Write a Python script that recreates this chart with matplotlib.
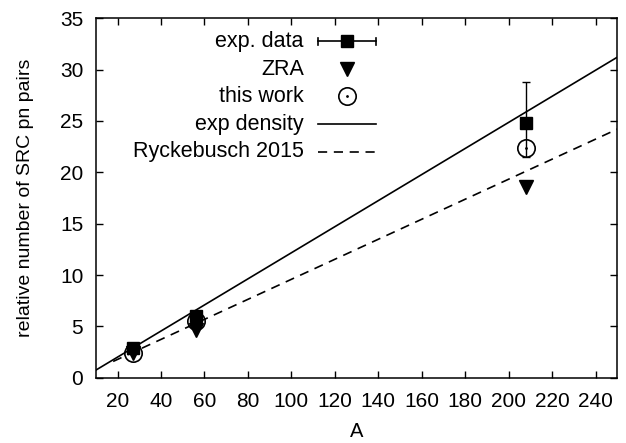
import matplotlib
matplotlib.use('Agg')
import matplotlib.pyplot as plt
from matplotlib.lines import Line2D

plt.rcParams['font.family'] = ['Liberation Sans', 'DejaVu Sans']

# measured points (A = 27, 56, 208)
A_pts = [27, 56, 208]
exp_data = [2.9, 6.0, 24.8]
exp_err_lo = [0.0, 0.0, 3.3]
exp_err_hi = [0.0, 0.0, 4.0]
zra = [2.4, 4.7, 18.6]
this_work = [2.4, 5.5, 22.4]

# curves
A_exp_density = [10, 250]
exp_density = [0.75, 31.2]
A_ryck = [18, 250]
ryckebusch = [1.6, 24.2]

legend_labels = ['exp. data', 'ZRA', 'this work', 'exp density', 'Ryckebusch 2015']

fig = plt.figure(figsize=(6.26, 4.43), dpi=100)
ax = fig.add_axes([0.153, 0.147, 0.833, 0.812])

ax.plot(A_exp_density, exp_density, color='black', lw=1.2)
ax.plot(A_ryck, ryckebusch, color='black', lw=1.2, dashes=(5.5, 4))

ax.errorbar(A_pts, exp_data, yerr=[exp_err_lo, exp_err_hi], fmt='s', color='black',
            ms=8.5, capsize=3, elinewidth=1, capthick=1)
ax.plot(A_pts, zra, 'v', color='black', ms=10.5)
ax.plot(A_pts, this_work, 'o', mfc='none', mec='black', mew=1.2, ms=12.5)
ax.plot(A_pts, this_work, '.', color='black', ms=2)

# legend drawn gnuplot style: text right aligned, sample on the right
tx, x0, x1, xm = 0.399, 0.426, 0.537, 0.482
ys = [0.936, 0.858, 0.783, 0.705, 0.628]
for lab, y in zip(legend_labels, ys):
    ax.text(tx, y, lab, transform=ax.transAxes, ha='right', va='center', fontsize=15.5)
tr = ax.transAxes
ax.add_line(Line2D([x0, x1], [ys[0]] * 2, color='black', lw=1.2, transform=tr))
for xc in (x0, x1):
    ax.add_line(Line2D([xc, xc], [ys[0] - 0.01, ys[0] + 0.01], color='black', lw=1.2, transform=tr))
ax.plot([xm], [ys[0]], 's', color='black', ms=8.5, transform=tr)
ax.plot([xm], [ys[1]], 'v', color='black', ms=10.5, transform=tr)
ax.plot([xm], [ys[2]], 'o', mfc='none', mec='black', mew=1.2, ms=12.5, transform=tr)
ax.plot([xm], [ys[2]], '.', color='black', ms=2, transform=tr)
ax.add_line(Line2D([x0, x1], [ys[3]] * 2, color='black', lw=1.2, transform=tr))
ax.add_line(Line2D([x0, x1], [ys[4]] * 2, color='black', lw=1.2, dashes=(5.5, 4), transform=tr))

ax.set_xlim(10, 250)
ax.set_ylim(0, 35)
ax.set_xticks(range(20, 241, 20))
ax.set_yticks(range(0, 36, 5))
ax.tick_params(direction='in', top=True, right=True, length=5, width=1, labelsize=15)
ax.tick_params(axis='x', pad=10)
ax.tick_params(axis='y', pad=9)
ax.set_xlabel('A', fontsize=14.5, labelpad=8)
ax.set_ylabel('relative number of SRC pn pairs', fontsize=14, labelpad=19)
for s in ax.spines.values():
    s.set_linewidth(1.1)

fig.savefig('out.png', dpi=100)
